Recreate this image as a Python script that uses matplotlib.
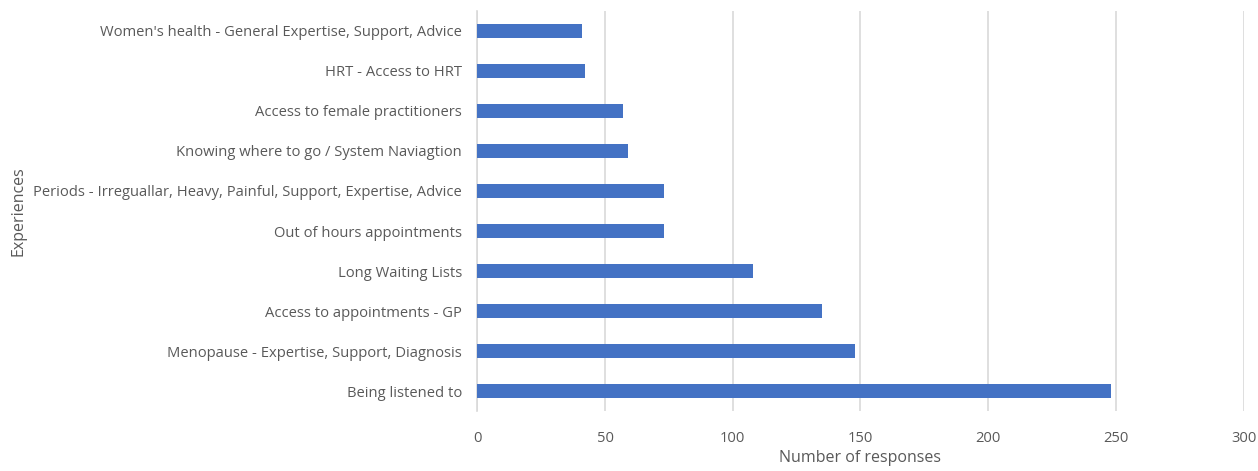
import matplotlib.pyplot as plt

# categories, top to bottom as in the chart
categories = [
    "Women's health - General Expertise, Support, Advice",
    "HRT - Access to HRT",
    "Access to female practitioners",
    "Knowing where to go / System Naviagtion",
    "Periods - Irreguallar, Heavy, Painful, Support, Expertise, Advice",
    "Out of hours appointments",
    "Long Waiting Lists",
    "Access to appointments - GP",
    "Menopause - Expertise, Support, Diagnosis",
    "Being listened to",
]
responses = [41, 42, 57, 59, 73, 73, 108, 135, 148, 248]
x_ticks = [0, 50, 100, 150, 200, 250, 300]

text_col = "#595959"
plt.rcParams["font.family"] = ["Open Sans", "DejaVu Sans"]

fig = plt.figure(figsize=(12.58, 4.71), dpi=100)
ax = fig.add_axes([0.3795, 0.127, 0.609, 0.850])

ax.barh(categories, responses, height=0.36, color="#4472C4", zorder=3)
ax.invert_yaxis()
ax.set_ylim(9.5, -0.5)
ax.set_xlim(0, 300)
ax.set_xticks(x_ticks)

ax.grid(axis="x", color="#D9D9D9", linewidth=1.2, zorder=0)
for s in ["top", "right", "bottom"]:
    ax.spines[s].set_visible(False)
ax.spines["left"].set_color("#D9D9D9")
ax.spines["left"].set_linewidth(1.2)

ax.tick_params(axis="both", length=0, colors=text_col, labelsize=10.6)
ax.tick_params(axis="y", pad=11)
ax.tick_params(axis="x", pad=14)

ax.set_xlabel("Number of responses", fontsize=11.5, color=text_col, labelpad=3)
ax.set_ylabel("Experiences", fontsize=11.5, color=text_col)
ax.yaxis.set_label_coords(-0.588, 0.5)

fig.savefig("out.png", dpi=100)
